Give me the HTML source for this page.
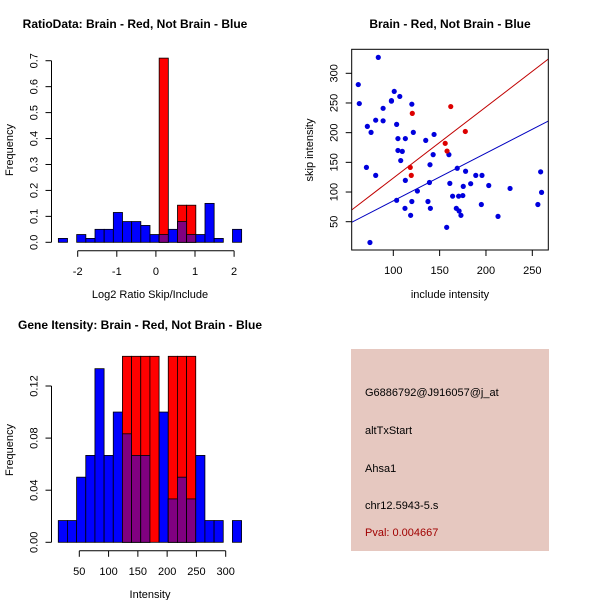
<!DOCTYPE html>
<html><head><meta charset="utf-8">
<style>
html,body{margin:0;padding:0;background:#fff;}
svg{display:block;font-family:"Liberation Sans",sans-serif;}
</style></head>
<body>
<svg id="s" width="600" height="600" xmlns="http://www.w3.org/2000/svg">
<rect width="600" height="600" fill="#fff"/>
<text x="135" y="28" font-size="12" font-weight="bold" text-anchor="middle">RatioData: Brain - Red, Not Brain - Blue</text>
<text x="450" y="28" font-size="12" font-weight="bold" text-anchor="middle">Brain - Red, Not Brain - Blue</text>
<text x="140" y="329" font-size="12" font-weight="bold" text-anchor="middle">Gene Itensity: Brain - Red, Not Brain - Blue</text>
<rect x="351" y="349" width="198" height="202" fill="#e6c8c0"/>
<text x="365" y="396" font-size="11">G6886792@J916057@j_at</text>
<text x="365" y="434" font-size="11">altTxStart</text>
<text x="365" y="472" font-size="11">Ahsa1</text>
<text x="365" y="509" font-size="11">chr12.5943-5.s</text>
<text x="365" y="536" font-size="11" fill="#a00000">Pval: 0.004667</text>
</svg>
<script>
// ---- ratio histogram data ----
const ratioBinStart = -2.495, ratioBinWidth = 0.2344;
const ratioBlue = [0.015,0,0.03,0.015,0.05,0.05,0.115,0.08,0.08,0.065,0.03,0.03,0.05,0.08,0.03,0.03,0.15,0.015,0,0.05];
const ratioRed  = [0,0,0,0,0,0,0,0,0,0,0,0.71,0,0.143,0.143,0,0,0,0,0];
const ratioXTicks = [-2,-1,0,1,2];
const ratioYTicks = [0,0.1,0.2,0.3,0.4,0.5,0.6,0.7];
// ---- intensity histogram data ----
const intBinStart = 14.1, intBinWidth = 15.65;
const intBlue = [0.0167,0.0167,0.05,0.0667,0.1333,0.0667,0.1,0.0833,0.0667,0.0667,0,0.1,0.0333,0.05,0.0333,0.0667,0.0167,0.0167,0,0.0167];
const intRed  = [0,0,0,0,0,0,0,0.1428,0.1428,0.1428,0.1428,0,0.1428,0.1428,0.1428,0,0,0,0,0];
const intXTicks = [50,100,150,200,250,300];
const intYTicks = [0,0.04,0.08,0.12];
// ---- scatter data ----
const blueX = [83.8,62.2,63.3,101,107,98,98,120,89,81,89,72,76,103.6,121.6,105,113,144,135,105,109.7,108,143,160,71,81,139.6,113,169,178,139,161,183.5,189,195.7,175.5,203,226,259,260,256,126,103.6,120,112.6,118.7,137.4,140,164,170.5,175,195,168,171,173,213,157.6,74.8];
const blueY = [326.8,281,249,269.5,261,254,253,248,241,221,220,210.6,200.5,214,200.5,190,190,197,187,170,168.5,153,163,163,141.5,128,146,119.6,140,135,116,114.6,114,128,128,109.5,111,106,134,99.4,79,101.6,86,84,72.5,60.7,84,72.5,93,93,94,79,72.5,68,60.7,59,40.5,15];
const redX = [120.5,162,177.7,156,158,118.3,119.4];
const redY = [232.5,244,202,182,169,141.5,128];
const redLine = [3.8,1.198];   // intercept, slope
const blueLine = [4.7,0.804];
const scXTicks = [100,150,200,250];
const scYTicks = [50,100,150,200,250,300];

const NS="http://www.w3.org/2000/svg", svg=document.getElementById('s');
function mk(tag,attrs,parent){const e=document.createElementNS(NS,tag);for(const k in attrs)e.setAttribute(k,attrs[k]);(parent||svg).appendChild(e);return e;}
function txt(x,y,s,size,anchor,rot,parent){const t=mk('text',{x:x,y:y,'font-size':size,'text-anchor':anchor||'middle'},parent);if(rot)t.setAttribute('transform','rotate(-90 '+x+' '+y+')');t.textContent=s;return t;}

function hist(cfg){
  const g=mk('g',{});
  
  
  const X=v=>cfg.x0+(v-cfg.xv0)*cfg.xs, Y=v=>cfg.y0-v*cfg.ys;
  for(let i=0;i<cfg.blue.length;i++){
    const a=cfg.start+i*cfg.w, b=a+cfg.w, bl=cfg.blue[i], rd=cfg.red[i];
    if(bl>0){const r=mk('rect',{x:X(a),y:Y(bl),width:X(b)-X(a),height:Y(0)-Y(bl),fill:'#0000ff',stroke:'#000','stroke-width':0.8},g);
      }
    if(rd>0){const r=mk('rect',{x:X(a),y:Y(rd),width:X(b)-X(a),height:Y(0)-Y(rd),fill:'#ff0000',stroke:'#000','stroke-width':0.8},g);
      
      const m=Math.min(bl,rd);
      if(m>0){const p=mk('rect',{x:X(a),y:Y(m),width:X(b)-X(a),height:Y(0)-Y(m),fill:'#800080',stroke:'#000','stroke-width':0.8},g);
        }}
  }
  const xa=mk('g',{stroke:'#000','stroke-width':1},g);
  
  const xt=cfg.xticks, ay=cfg.y0+8.5;
  mk('line',{x1:X(xt[0]),x2:X(xt[xt.length-1]),y1:ay,y2:ay},xa);
  xt.forEach(v=>{mk('line',{x1:X(v),x2:X(v),y1:ay,y2:ay+6},xa);const t=txt(X(v),ay+24,String(v),11,'middle',false,g);});
  const ya=mk('g',{stroke:'#000','stroke-width':1},g);
  
  const yt=cfg.yticks, ax=51.5;
  mk('line',{x1:ax,x2:ax,y1:Y(yt[0]),y2:Y(yt[yt.length-1])},ya);
  yt.forEach(v=>{mk('line',{x1:ax,x2:ax-6,y1:Y(v),y2:Y(v)},ya);const t=txt(ax-14,Y(v),cfg.fmt(v),11,'middle',true,g);});
  const xl=txt(cfg.xlabX,cfg.xlabY,cfg.xlab,11,'middle',false,g);
  const yl=txt(13,cfg.ylabY,'Frequency',11,'middle',true,g);
}
hist({name:'ratio-histogram',x0:77.7,xv0:-2,xs:39.1,y0:242.3,ys:259.4,start:ratioBinStart,w:ratioBinWidth,blue:ratioBlue,red:ratioRed,
  xticks:ratioXTicks,yticks:ratioYTicks,fmt:v=>v.toFixed(1),xlab:'Log2 Ratio Skip/Include',xlabX:150,xlabY:298,ylabY:150});
hist({name:'intensity-histogram',x0:79.3,xv0:50,xs:0.5856,y0:542.3,ys:1302.5,start:intBinStart,w:intBinWidth,blue:intBlue,red:intRed,
  xticks:intXTicks,yticks:intYTicks,fmt:v=>v.toFixed(2),xlab:'Intensity',xlabX:150,xlabY:598,ylabY:450});

(function(){
  const g=mk('g',{});
  
  
  const X=v=>393.3+(v-100)*0.9267, Y=v=>221.7-(v-50)*0.5936;
  const L=351.7,R=548.3,T=49.3,B=250;
  const clip=mk('clipPath',{id:'sc'},g);mk('rect',{x:L,y:T,width:R-L,height:B-T},clip);
  const xmin=55,xmax=267.3;
  [[redLine,'#c00000','red-regression-line'],[blueLine,'#0000c0','blue-regression-line']].forEach(([p,c,n])=>{
    const l=mk('line',{x1:X(xmin),y1:Y(p[0]+p[1]*xmin),x2:X(xmax),y2:Y(p[0]+p[1]*xmax),stroke:c,'stroke-width':1,'clip-path':'url(#sc)'},g);
    });
  blueX.forEach((x,i)=>{const c=mk('circle',{cx:X(x),cy:Y(blueY[i]),r:2.6,fill:'#0000dd'},g);
    });
  redX.forEach((x,i)=>{const c=mk('circle',{cx:X(x),cy:Y(redY[i]),r:2.6,fill:'#dd0000'},g);
    });
  const f=mk('rect',{x:L,y:T,width:R-L,height:B-T,fill:'none',stroke:'#000','stroke-width':1},g);
  
  scXTicks.forEach(v=>{mk('line',{x1:X(v),x2:X(v),y1:B,y2:B+6,stroke:'#000'},g);const t=txt(X(v),B+24,String(v),11,'middle',false,g);});
  scYTicks.forEach(v=>{mk('line',{x1:L,x2:L-6,y1:Y(v),y2:Y(v),stroke:'#000'},g);const t=txt(L-14,Y(v),String(v),11,'middle',true,g);});
  const xl=txt(450,298,'include intensity',11,'middle',false,g);
  const yl=txt(313,150,'skip intensity',11,'middle',true,g);
})();
</script>
</body></html>
